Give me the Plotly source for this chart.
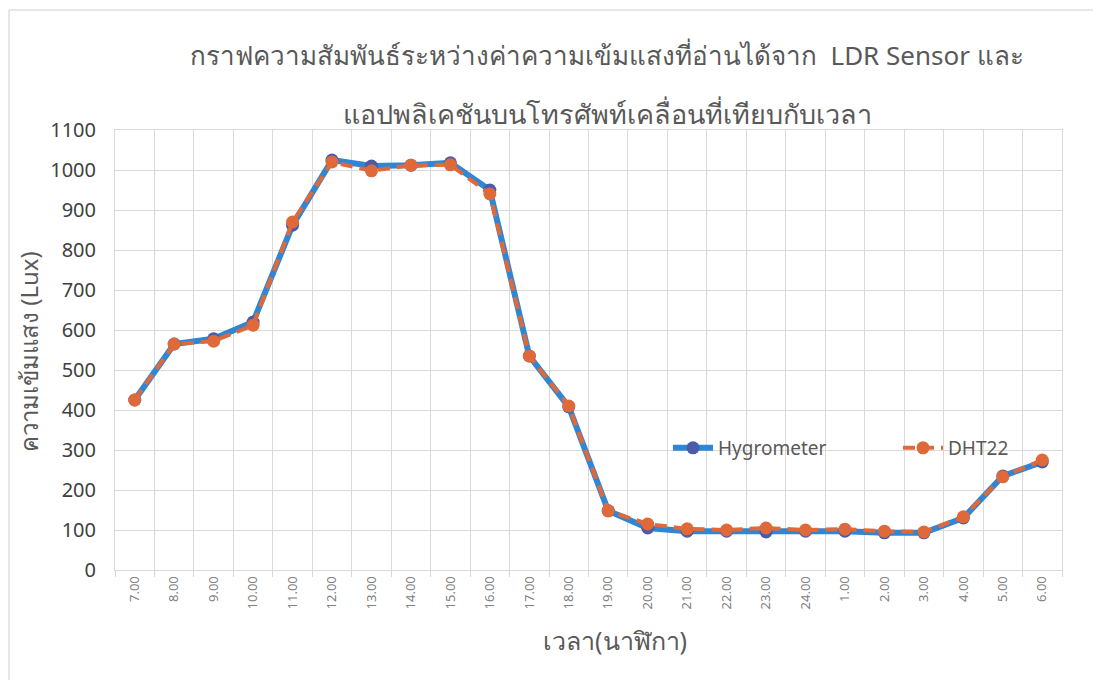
import plotly.graph_objects as go

times = ["7.00", "8.00", "9.00", "10.00", "11.00", "12.00", "13.00", "14.00", "15.00",
         "16.00", "17.00", "18.00", "19.00", "20.00", "21.00", "22.00", "23.00", "24.00",
         "1.00", "2.00", "3.00", "4.00", "5.00", "6.00"]
hygrometer = [425, 565, 578, 620, 862, 1025, 1010, 1012, 1018, 950, 535, 408, 148, 105,
              97, 97, 95, 97, 97, 93, 93, 130, 235, 270]
dht22 = [425, 565, 572, 612, 870, 1020, 998, 1012, 1013, 940, 535, 410, 148, 115,
         103, 100, 105, 100, 102, 97, 95, 133, 233, 275]

title_line1 = "กราฟความสัมพันธ์ระหว่างค่าความเข้มแสงที่อ่านได้จาก  LDR Sensor และ"
title_line2 = "แอปพลิเคชันบนโทรศัพท์เคลื่อนที่เทียบกับเวลา"
x_title = "เวลา(นาฬิกา)"
y_title = "ความเข้มแสง (Lux)"

FONT = "Noto Sans, DejaVu Sans, sans-serif"

# target plot rectangle in screen pixels (page has an 8px body margin)
PL, PR, PT, PB = 115, 1062, 130, 570
PW, PH = PR - PL, PB - PT


def px(x):
    return (x - PL) / PW


def py(y):
    return (PB - y) / PH


fig = go.Figure()
fig.add_trace(go.Scatter(
    x=times, y=hygrometer, name="Hygrometer", mode="lines+markers",
    line=dict(color="#2f86d4", width=6),
    marker=dict(color="#4a5bab", size=13),
    legend="legend",
))
fig.add_trace(go.Scatter(
    x=times, y=dht22, name="DHT22", mode="lines+markers",
    line=dict(color="#e0693a", width=4, dash="12px,7px"),
    marker=dict(color="#e0693a", size=13),
    legend="legend2",
))

legend_common = dict(
    orientation="h", xanchor="left", yanchor="middle",
    bgcolor="rgba(0,0,0,0)", font=dict(size=19, color="#595959"),
    itemwidth=40,
)

fig.update_layout(
    width=1101, height=680,
    paper_bgcolor="white", plot_bgcolor="white",
    margin=dict(l=PL - 8, r=1101 + 8 - PR, t=PT - 8, b=680 + 8 - PB),
    font=dict(family=FONT, color="#595959"),
    showlegend=True,
    legend=dict(x=px(668), y=py(448), **legend_common),
    legend2=dict(x=px(898), y=py(448), **legend_common),
    xaxis=dict(
        type="category", tickson="boundaries",
        showgrid=True, gridcolor="#d9d9d9", gridwidth=1,
        ticks="outside", ticklen=6, tickcolor="#d9d9d9",
        tickangle=-90, tickfont=dict(size=13, color="#808080"),
        showline=True, linecolor="#d9d9d9", mirror=True,
        range=[-0.5, 23.5], zeroline=False,
    ),
    yaxis=dict(
        range=[0, 1100], dtick=100, tick0=0,
        showgrid=True, gridcolor="#d9d9d9", gridwidth=1,
        tickfont=dict(size=20, color="#404040"), ticklabelstandoff=14,
        showline=True, linecolor="#d9d9d9", mirror=True, zeroline=False,
    ),
    annotations=[
        dict(text=title_line1, xref="paper", yref="paper", x=px(607), y=py(55),
             xanchor="center", yanchor="middle", showarrow=False,
             font=dict(size=26, color="#595959")),
        dict(text=title_line2, xref="paper", yref="paper", x=px(607), y=py(113),
             xanchor="center", yanchor="middle", showarrow=False,
             font=dict(size=27, color="#595959")),
        dict(text=x_title, xref="paper", yref="paper", x=px(615), y=py(640),
             xanchor="center", yanchor="middle", showarrow=False,
             font=dict(size=25, color="#595959")),
        dict(text=y_title, xref="paper", yref="paper", x=px(28), y=py(352),
             xanchor="center", yanchor="middle", showarrow=False, textangle=-90,
             font=dict(size=24, color="#595959")),
    ],
    shapes=[
        dict(type="rect", xref="paper", yref="paper",
             x0=px(9), x1=px(1095), y0=py(700), y1=py(10),
             line=dict(color="#d0d0d0", width=1), layer="below"),
    ],
)

fig.write_html("out.html")
